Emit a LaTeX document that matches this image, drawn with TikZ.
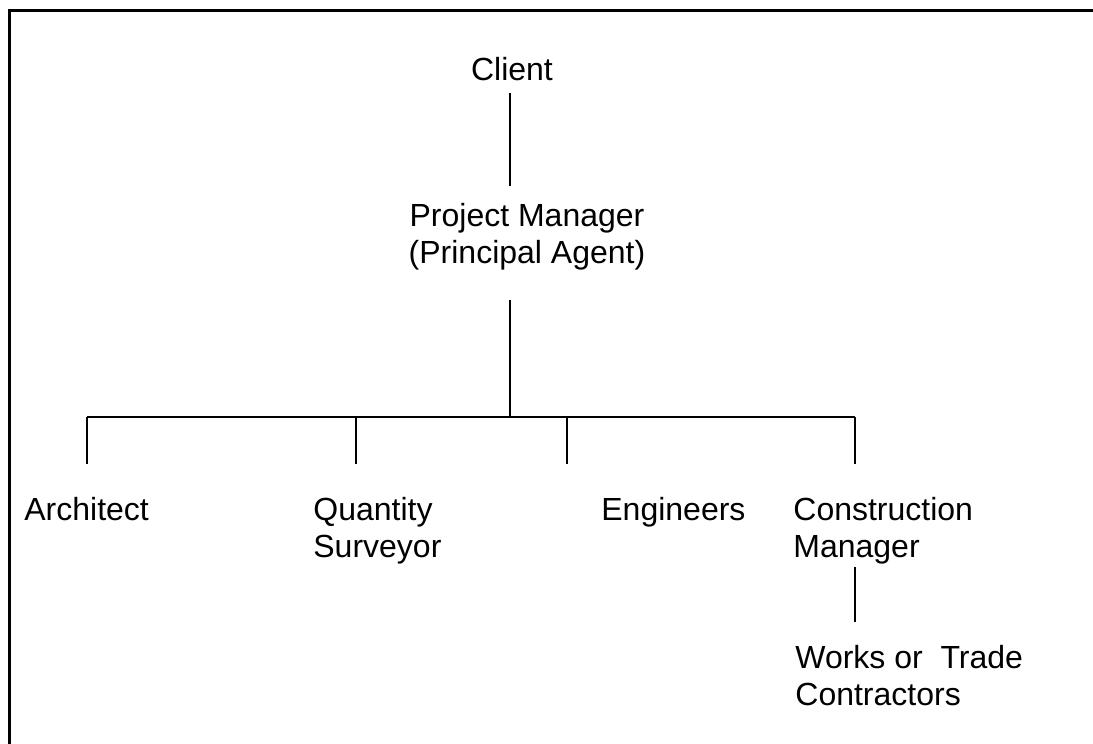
\documentclass[tikz,border=0pt]{standalone}
\usepackage{fontspec}
\setmainfont{Liberation Sans}
\usetikzlibrary{positioning, calc}

\begin{document}
\begin{tikzpicture}[x=0.5pt, y=-0.5pt]
    % Styles
    \tikzstyle{role} = [inner sep=0pt, align=left, font=\fontsize{16}{18.5}\selectfont]
    \tikzstyle{link} = [draw, line width=1pt]
    \tikzstyle{frame} = [draw, line width=1.5pt]

    \useasboundingbox (0,0) rectangle (1093,744);
    \path [frame] (9,744) -- (9,10) -- (1093,10);

    % Nodes (base = last line)
    \node [role, anchor=base] (client) at (512,80) {Client};
    \node [role, align=center, anchor=base] (pm) at (527,263) {Project Manager\\(Principal Agent)};
    \node [role, anchor=base west] (arch) at (24,520) {Architect};
    \node [role, anchor=base west] (qs) at (313,557) {Quantity\\Surveyor};
    \node [role, anchor=base west] (eng) at (601,520) {Engineers};
    \node [role, anchor=base west] (cm) at (793,557) {Construction\\Manager};
    \node [role, anchor=base west] (works) at (795,705) {Works or\ \ Trade\\Contractors};

    % Junctions on the bar
    \coordinate (hub) at (510,417);
    \coordinate (jarch) at (87,417);
    \coordinate (jqs) at (356,417);
    \coordinate (jeng) at (567,417);
    \coordinate (jcm) at (855,417);

    % Paths
    \path [link] ([yshift=-6pt]client.south -| hub) -- ([yshift=8pt]pm.north -| hub);
    \path [link] ([yshift=-15pt]pm.south -| hub) -- (hub);
    \path [link] (jarch) -- (jcm);
    \path [link] (jarch) -- ([yshift=16pt]jarch |- arch.north);
    \path [link] (jqs) -- ([yshift=16pt]jqs |- qs.north);
    \path [link] (jeng) -- ([yshift=16pt]jeng |- eng.north);
    \path [link] (jcm) -- ([yshift=16pt]jcm |- cm.north);
    \path [link] ([yshift=-1.5pt]cm.south -| jcm) -- ([yshift=11pt]works.north -| jcm);
\end{tikzpicture}
\end{document}
